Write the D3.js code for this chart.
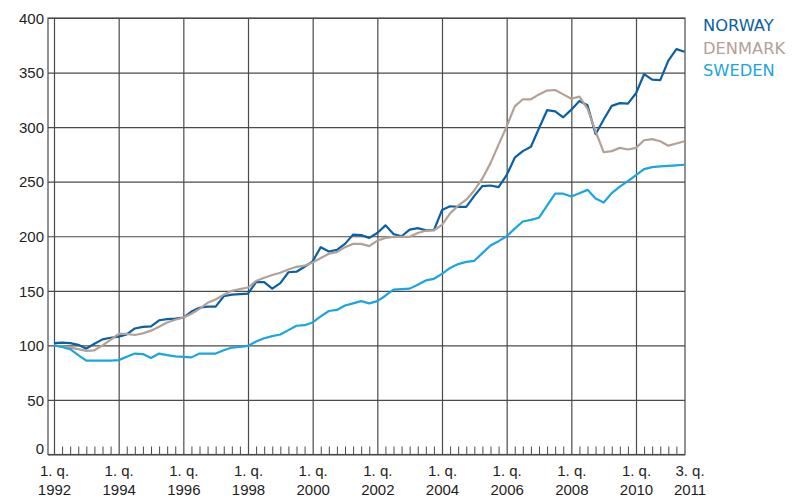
<!DOCTYPE html>
<html>
<head>
<meta charset="utf-8">
<script src="https://cdn.jsdelivr.net/npm/d3@7/dist/d3.min.js"></script>
<style>
  html, body { margin: 0; padding: 0; background: #fff; }
  svg { display: block; font-family: "DejaVu Sans", sans-serif; }
  .domain { display: none; }
</style>
</head>
<body>
<svg id="chart" width="799" height="500"></svg>
<script>
// House price index, 1. q. 1992 = 100, quarterly from 1. q. 1992 to 3. q. 2011
const firstYear = 1992;
const lastIndex = 78; // 3. q. 2011

const norway = [
  102, 102.5, 102, 100.5,
  97, 101.5, 105.5, 107,
  108, 110, 115.5, 117,
  117.5, 123, 124, 124.5,
  125.5, 131, 134.5, 135.5,
  135.5, 145, 146.5, 147,
  147.5, 158, 158, 152,
  157, 167, 167.5, 172,
  177, 190, 186, 187.5,
  193, 201.5, 201, 198.5,
  203, 210, 202, 200,
  206, 207.5, 205.5, 205.5,
  224, 227.5, 227, 227,
  237, 246, 246.5, 245,
  256, 272, 278, 282,
  299, 315.5, 314.5, 309,
  316, 324, 320, 293.5,
  307, 319.5, 322, 321.5,
  331, 348.5, 343.5, 343,
  361, 371.5, 369
];

const denmark = [
  100, 99, 98, 96.5,
  95, 95.5, 100, 105,
  110.5, 110.5, 109.5, 111,
  113.5, 117, 121, 123.5,
  125.5, 129, 133.5, 139,
  142, 146.5, 150, 151.5,
  153, 159, 162, 164.5,
  166.5, 169.5, 172, 173,
  176, 180, 184, 185.5,
  190, 193, 193, 191,
  196, 198.5, 199.5, 199.5,
  199.5, 203, 205, 205.5,
  210.5, 221, 228, 233.5,
  242, 253, 267, 284,
  300.5, 319, 325.5, 325.5,
  330, 333.5, 334, 330,
  326, 328, 317, 296,
  277, 278, 281, 279.5,
  281, 288, 289, 287,
  283, 285, 287
];

const sweden = [
  100, 98.5, 96.5, 91,
  86, 86, 86, 86,
  86.5, 89.5, 92.5, 92,
  88.5, 92.5, 91, 90,
  89.5, 89, 92.5, 92.5,
  92.5, 95.5, 98, 98.5,
  99.5, 103.5, 106.5, 108.5,
  110, 114, 118, 118.5,
  121, 126.5, 131.5, 132.5,
  136.5, 138.5, 140.5, 138.5,
  140.5, 145.5, 151, 151.5,
  152, 155.5, 159.5, 161,
  165.5, 171, 174.5, 176.5,
  177.5, 184.5, 191.5, 195.5,
  200, 207, 213.5, 215,
  217, 228, 239, 239,
  236.5, 239.5, 242.5, 234.5,
  231, 239.5, 245.5, 250.5,
  256, 261.5, 263.3, 264,
  264.5, 265, 265.5
];

const yTicks = [0, 50, 100, 150, 200, 250, 300, 350, 400];
// labelled positions (quarter index) with their two-line captions
const labelIndex = [0, 8, 16, 24, 32, 40, 48, 56, 64, 72, 78];
const labelQuarter = ["1. q.", "1. q.", "1. q.", "1. q.", "1. q.", "1. q.", "1. q.", "1. q.", "1. q.", "1. q.", "3. q."];
const labelYear = ["1992", "1994", "1996", "1998", "2000", "2002", "2004", "2006", "2008", "2010", "2011"];

const seriesNames = ["NORWAY", "DENMARK", "SWEDEN"];
const seriesColors = ["#0b5fa4", "#b3a197", "#1aa5e2"];
const seriesValues = [norway, denmark, sweden];

const svg = d3.select("#chart");
const frameLeft = 48, frameRight = 685, frameTop = 18, frameBottom = 454.5;

const x = d3.scaleLinear().domain([0, lastIndex]).range([54, 684.5]);
const y = d3.scaleLinear().domain([0, 400]).range([frameBottom, frameTop]);

const gridColor = "#4a4a4a";

// horizontal gridlines + value labels
const yAxis = d3.axisLeft(y)
  .tickValues(yTicks)
  .tickSize(-(frameRight - frameLeft))
  .tickPadding(4)
  .tickFormat(d3.format("d"));
const gy = svg.append("g")
  .attr("transform", `translate(${frameLeft},0)`)
  .call(yAxis);
gy.selectAll(".tick line").attr("stroke", gridColor).attr("stroke-width", 1.2);
gy.selectAll(".tick text")
  .attr("fill", "#1e1e1e")
  .style("font-size", "15px")
  .attr("dy", d => d === 0 ? "-0.05em" : "0.35em");

// vertical gridlines every second year
const majorIdx = d3.range(0, lastIndex, 8);
const gxMajor = svg.append("g")
  .attr("transform", `translate(0,${frameBottom})`)
  .call(d3.axisBottom(x).tickValues(majorIdx).tickSize(-(frameBottom - frameTop)).tickFormat(""));
gxMajor.selectAll(".tick line").attr("stroke", gridColor).attr("stroke-width", 1.2);

// quarterly ticks along the bottom
const minorIdx = d3.range(0, lastIndex + 1).filter(i => i % 8 !== 0 && i !== lastIndex);
const gxMinor = svg.append("g")
  .attr("transform", `translate(0,${frameBottom})`)
  .call(d3.axisBottom(x).tickValues(minorIdx).tickSize(-8).tickFormat(""));
gxMinor.selectAll(".tick line").attr("stroke", gridColor).attr("stroke-width", 1);

// frame
svg.append("rect")
  .attr("x", frameLeft).attr("y", frameTop)
  .attr("width", frameRight - frameLeft).attr("height", frameBottom - frameTop)
  .attr("fill", "none").attr("stroke", gridColor).attr("stroke-width", 1.2);

// two-line period labels
const gLab = svg.append("g")
  .attr("transform", `translate(0,${frameBottom})`)
  .call(d3.axisBottom(x).tickValues(labelIndex).tickSize(0).tickPadding(0).tickFormat(""));
gLab.selectAll(".tick").each(function(d, k) {
  const t = d3.select(this).append("text")
    .attr("fill", "#1e1e1e")
    .attr("text-anchor", "middle")
    .style("font-size", "15px")
    .attr("x", d === lastIndex ? 5 : 0);
  t.append("tspan").attr("x", d === lastIndex ? 5 : 0).attr("y", 21.5).text(labelQuarter[k]);
  t.append("tspan").attr("x", d === lastIndex ? 5 : 0).attr("y", 40.5).text(labelYear[k]);
});

// series lines
const line = d3.line()
  .x((d, i) => x(i))
  .y(d => y(d));
seriesValues.forEach((vals, s) => {
  svg.append("path")
    .datum(vals)
    .attr("fill", "none")
    .attr("stroke", seriesColors[s])
    .attr("stroke-width", 2.2)
    .attr("stroke-linejoin", "round")
    .attr("d", line);
});

// legend
seriesNames.forEach((name, s) => {
  svg.append("text")
    .attr("x", 703)
    .attr("y", 31 + s * 22.6)
    .attr("fill", seriesColors[s])
    .style("font-size", "16.3px")
    .text(name);
});
</script>
</body>
</html>
